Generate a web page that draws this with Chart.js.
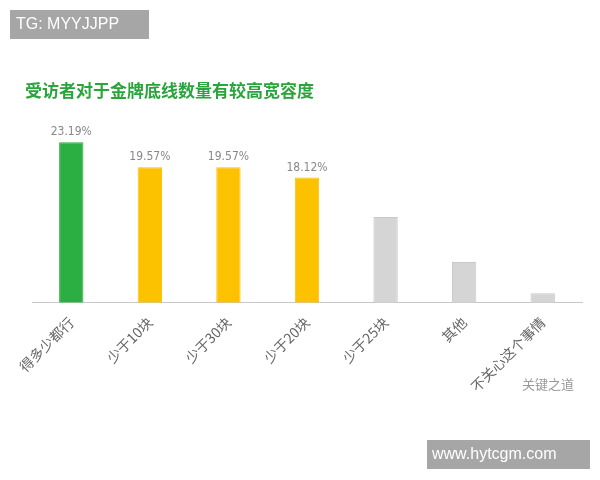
<!DOCTYPE html>
<html><head><meta charset="utf-8">
<script src="https://cdn.jsdelivr.net/npm/chart.js@4"></script>
<style>body{margin:0;background:#fff}#wrap{width:600px;height:480px}</style>
</head><body><div id="wrap"><canvas id="c"></canvas></div>
<script>
var categories = ['得多少都行','少于10块','少于30块','少于20块','少于25块','其他','不关心这个事情'];
var values = [23.19, 19.57, 19.57, 18.12, 12.4, 5.9, 1.4];
var shownLabels = ['23.19%','19.57%','19.57%','18.12%','','',''];
var barColors = ['#2bae42','#fcc200','#fcc200','#fcc200','#d5d5d5','#d5d5d5','#d5d5d5'];
var borderColors = ['#2bae42','#fcc200','#fcc200','#fcc200','#c8c8c8','#c8c8c8','#c8c8c8'];

var decor = {
  id: 'decor',
  afterDraw: function(chart){
    var c = chart.ctx;
    c.save();
    c.fillStyle = '#a6a6a6';
    c.fillRect(10, 10, 139, 29);
    c.fillRect(427, 440, 163, 29);
    c.fillStyle = '#fff';
    c.font = '16px "Liberation Sans", Arial';
    c.textBaseline = 'middle';
    c.fillText('TG: MYYJJPP', 16, 25);
    c.fillText('www.hytcgm.com', 432, 455);
    c.fillStyle = '#2aa53c';
    c.font = 'bold 17px "Noto Sans CJK SC"';
    c.fillText('受访者对于金牌底线数量有较高宽容度', 25, 91);
    c.fillStyle = '#9a9a9a';
    c.font = '13px "Noto Sans CJK SC"';
    c.fillText('关键之道', 522, 384);
    // values
    var meta = chart.getDatasetMeta(0);
    c.fillStyle = '#888';
    c.font = '12px "DejaVu Sans Condensed", "Liberation Sans"';
    c.textAlign = 'center';
    c.textBaseline = 'bottom';
    meta.data.forEach(function(b, i){
      if (shownLabels[i]) c.fillText(shownLabels[i], b.x, b.y - 4);
    });
    c.restore();
  }
};

new Chart(document.getElementById('c'), {
  type: 'bar',
  data: {
    labels: categories,
    datasets: [{
      data: values,
      backgroundColor: barColors,
      borderColor: borderColors,
      borderWidth: 1,
      barPercentage: 0.31,
      categoryPercentage: 1
    }]
  },
  options: {
    responsive: true,
    maintainAspectRatio: false,
    animation: false,
    layout: {padding: {top: 109, left: 32, right: 18, bottom: 82}},
    plugins: {legend: {display: false}, tooltip: {enabled: false}},
    scales: {
      y: {display: false, min: 0, max: 28},
      x: {
        grid: {display: false},
        border: {color: '#c8c8c8'},
        ticks: {
          minRotation: 45, maxRotation: 45,
          color: '#666',
          font: {size: 14, family: '"Noto Sans CJK SC"'}
        }
      }
    }
  },
  plugins: [decor]
});
</script></body></html>
